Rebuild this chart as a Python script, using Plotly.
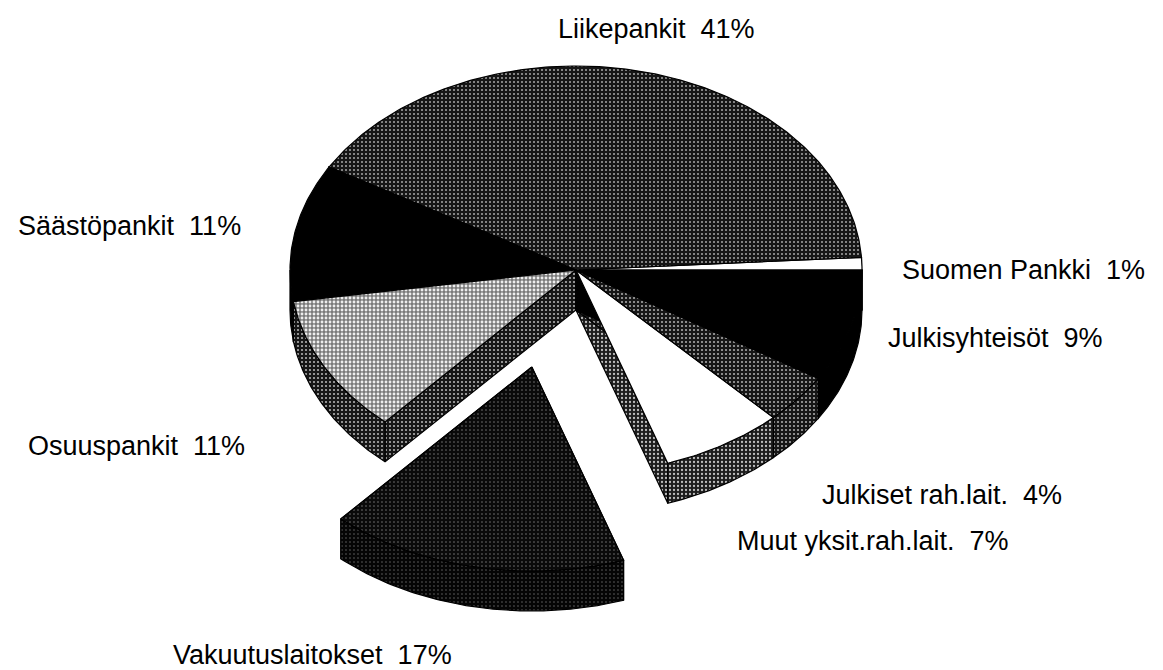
import numpy as np
import plotly.graph_objects as go

# ---------------- data ----------------
labels = ["Suomen Pankki", "Liikepankit", "Säästöpankit", "Osuuspankit",
          "Vakuutuslaitokset", "Muut yksit.rah.lait.", "Julkiset rah.lait.", "Julkisyhteisöt"]
values = [1, 41, 11, 11, 17, 7, 4, 9]
pct_text = ["1%", "41%", "11%", "11%", "17%", "7%", "4%", "9%"]
pulled = ["Vakuutuslaitokset"]

# ---------------- style / layout ----------------
W, H = 1163, 670
CX, CY, RX, RY, DEPTH = 568, 262, 286, 204, 40
PULL, PULL_DIR = 0.5, 252.0

# (background colour, dot colour, dot solidity)
top_style = {
    "Suomen Pankki": ("#ffffff", None, 0),
    "Liikepankit": ("#161616", "#a8a8a8", 0.2),
    "Säästöpankit": ("#000000", None, 0),
    "Osuuspankit": ("#7a7a7a", "#eeeeee", 0.4),
    "Vakuutuslaitokset": ("#0a0a0a", "#7a7a7a", 0.12),
    "Muut yksit.rah.lait.": ("#ffffff", None, 0),
    "Julkiset rah.lait.": ("#161616", "#a8a8a8", 0.22),
    "Julkisyhteisöt": ("#000000", None, 0),
}
wall_style = {
    "Suomen Pankki": ("#161616", "#a8a8a8", 0.22),
    "Liikepankit": ("#161616", "#a8a8a8", 0.22),
    "Säästöpankit": ("#000000", None, 0),
    "Osuuspankit": ("#161616", "#b0b0b0", 0.22),
    "Vakuutuslaitokset": ("#050505", "#666666", 0.12),
    "Muut yksit.rah.lait.": ("#1c1c1c", "#bdbdbd", 0.25),
    "Julkiset rah.lait.": ("#161616", "#a8a8a8", 0.22),
    "Julkisyhteisöt": ("#000000", None, 0),
}
label_pos = {
    "Liikepankit": (548, 21),
    "Säästöpankit": (8, 218),
    "Suomen Pankki": (892, 262),
    "Julkisyhteisöt": (878, 330),
    "Osuuspankit": (18, 438),
    "Julkiset rah.lait.": (812, 487),
    "Muut yksit.rah.lait.": (727, 533),
    "Vakuutuslaitokset": (163, 647),
}

tot = float(sum(values))
bounds = np.concatenate([[0.0], np.cumsum(values)]) / tot * 360.0


def pt(theta, ox, oy, r=1.0, dz=0.0):
    t = np.radians(theta)
    return CX + ox + RX * r * np.cos(t), CY + oy - RY * r * np.sin(t) + dz


def arc(a0, a1, ox, oy, dz=0.0):
    n = max(4, int(abs(a1 - a0) * 1.5))
    th = np.linspace(a0, a1, n)
    t = np.radians(th)
    return list(CX + ox + RX * np.cos(t)), list(CY + oy - RY * np.sin(t) + dz)


fig = go.Figure()


def poly(xs, ys, style):
    bg, fg, sol = style
    kw = dict(x=xs, y=ys, mode="lines", fill="toself", fillcolor=bg,
              line=dict(color="black", width=1.2), hoverinfo="skip", showlegend=False)
    if fg is not None:
        kw["fillpattern"] = dict(shape=".", bgcolor=bg, fgcolor=fg, size=4, solidity=sol,
                                 fillmode="replace")
    fig.add_trace(go.Scatter(**kw))


def draw_slice(i, stage):
    name = labels[i]
    a0, a1 = bounds[i], bounds[i + 1]
    p = PULL if name in pulled else 0.0
    ox = p * RX * np.cos(np.radians(PULL_DIR))
    oy = -p * RY * np.sin(np.radians(PULL_DIR))
    cx, cy = CX + ox, CY + oy
    if stage == "radial":
        for a in (a0, a1):
            ex, ey = pt(a, ox, oy)
            poly([cx, ex, ex, cx, cx], [cy, ey, ey + DEPTH, cy + DEPTH, cy], wall_style[name])
    elif stage == "outer":
        lo, hi = max(a0, 180.0), min(a1, 360.0)
        if hi > lo:
            tx, ty = arc(lo, hi, ox, oy)
            bx, by = arc(hi, lo, ox, oy, DEPTH)
            poly(tx + bx + [tx[0]], ty + by + [ty[0]], wall_style[name])
    else:
        tx, ty = arc(a0, a1, ox, oy)
        poly([cx] + tx + [cx], [cy] + ty + [cy], top_style[name])


main = [i for i in range(len(labels)) if labels[i] not in pulled]
expl = [i for i in range(len(labels)) if labels[i] in pulled]
for group in (main, expl):
    for stage in ("radial", "outer", "top"):
        for i in group:
            draw_slice(i, stage)

for i, name in enumerate(labels):
    x, y = label_pos[name]
    fig.add_annotation(x=x, y=y, xref="x", yref="y", xanchor="left", yanchor="middle",
                       text=f"{name} \u00a0{pct_text[i]}", showarrow=False,
                       font=dict(family="Liberation Sans, Arial, sans-serif", size=27, color="black"))

fig.update_layout(
    width=W, height=H, margin=dict(l=0, r=0, t=0, b=0),
    paper_bgcolor="white", plot_bgcolor="white",
    xaxis=dict(range=[0, W], visible=False, fixedrange=True),
    yaxis=dict(range=[H, 0], visible=False, fixedrange=True),
)
fig.write_html("out.html")
